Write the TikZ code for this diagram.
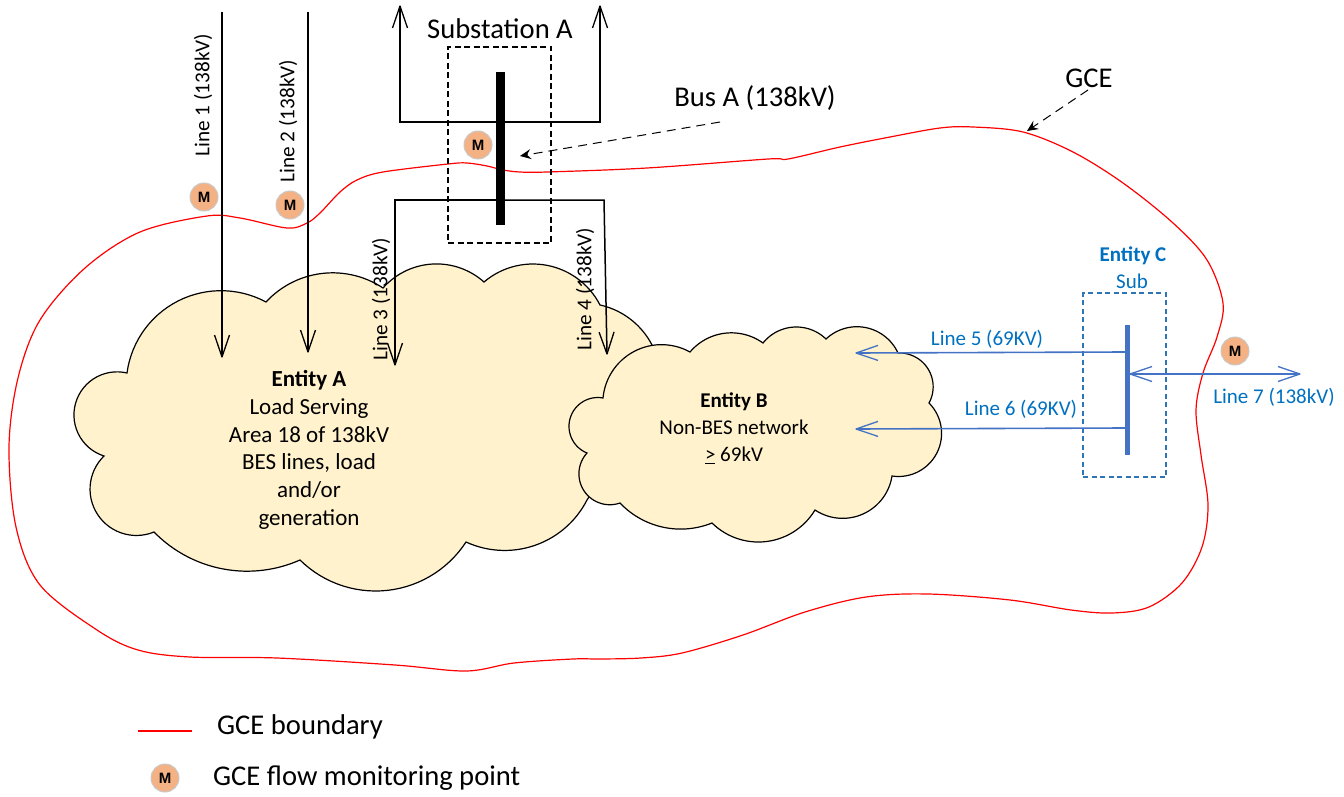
\documentclass[tikz,border=0pt]{standalone}
\usepackage{fontspec}
\setmainfont{Carlito}
\newfontfamily\meterfont{Liberation Sans}
\usetikzlibrary{arrows.meta}
\definecolor{cloudfill}{HTML}{FFF2CC}
\definecolor{gcered}{HTML}{FF0000}
\definecolor{meterfill}{HTML}{F4B183}
\definecolor{meterline}{HTML}{C9C9C9}
\definecolor{lineblue}{HTML}{4472C4}
\definecolor{textblue}{HTML}{0070C0}
\definecolor{boxblue}{HTML}{2E75B6}
\pgfdeclarearrow{
  name=OpenVee,
  setup code={%
    \pgfarrowssettipend{0pt}%
    \pgfarrowssetlineend{-1pt}%
    \pgfarrowssetvisualtipend{0pt}%
    \pgfarrowssetbackend{-22pt}%
    \pgfarrowssetvisualbackend{-22pt}%
    \pgfarrowshullpoint{0pt}{0pt}%
    \pgfarrowsupperhullpoint{-22pt}{7.5pt}%
  },
  drawing code={%
    \pgfsetdash{}{0pt}%
    \pgfsetlinewidth{1.3pt}%
    \pgfsetroundjoin
    \pgfsetbuttcap
    \pgfpathmoveto{\pgfqpoint{-22pt}{7.5pt}}%
    \pgfpathlineto{\pgfqpoint{0pt}{0pt}}%
    \pgfpathlineto{\pgfqpoint{-22pt}{-7.5pt}}%
    \pgfusepathqstroke
  }
}
\tikzset{
  x=1pt,y=-1pt,
  cloudshape/.style={fill=cloudfill,draw=black,line width=1.2pt,line join=miter},
  gceline/.style={draw=gcered,line width=1.2pt},
  feeder/.style={draw=black,line width=1.5pt,-OpenVee},
  bluefeeder/.style={draw=lineblue,line width=1.6pt,-OpenVee},
  pointer/.style={draw=black,line width=1pt,dash pattern=on 9pt off 6pt,-{Stealth[length=11pt,width=10pt,inset=4pt]}},
  meter/.style={circle,fill=meterfill,draw=meterline,line width=1pt,minimum size=28pt,inner sep=0pt,font=\meterfont\fontsize{15}{15}\selectfont\bfseries},
  vlabel/.style={rotate=90,inner sep=0pt,font=\fontsize{21.2}{23}\selectfont},
  biglabel/.style={inner sep=0pt,font=\fontsize{28.6}{30}\selectfont},
  midlabel/.style={inner sep=0pt,align=center,font=\fontsize{23}{27.7}\selectfont},
  bluelabel/.style={inner sep=0pt,text=textblue,font=\fontsize{21}{24}\selectfont},
}
% circular lobe through three points, appended to \cpath
\newcommand\lobe[6]{%
  \edef\bx{\fpeval{#3-(#1)}}\edef\by{\fpeval{#4-(#2)}}%
  \edef\qx{\fpeval{#5-(#1)}}\edef\qy{\fpeval{#6-(#2)}}%
  \edef\dd{\fpeval{2*(\bx*\qy-\by*\qx)}}%
  \edef\ux{\fpeval{(\qy*(\bx*\bx+\by*\by)-\by*(\qx*\qx+\qy*\qy))/\dd}}%
  \edef\uy{\fpeval{(\bx*(\qx*\qx+\qy*\qy)-\qx*(\bx*\bx+\by*\by))/\dd}}%
  \edef\rr{\fpeval{sqrt(\ux*\ux+\uy*\uy)}}%
  \edef\aa{\fpeval{atand(-\uy,-\ux)}}%
  \edef\ab{\fpeval{atand(\by-\uy,\bx-\ux)}}%
  \edef\ac{\fpeval{atand(\qy-\uy,\qx-\ux)}}%
  \edef\da{\fpeval{\ab-\aa-360*floor((\ab-\aa)/360)}}%
  \edef\db{\fpeval{\ac-\aa-360*floor((\ac-\aa)/360)}}%
  \edef\sw{\fpeval{\da<\db ? \db : \db-360}}%
  \foreach \k in {0,...,30}{%
    \xdef\cpath{\cpath -- (\fpeval{round(#1+\ux+\rr*cosd(\aa+\sw*\k/30),2)},\fpeval{round(#2+\uy+\rr*sind(\aa+\sw*\k/30),2)})}%
  }%
}
\begin{document}
\begin{tikzpicture}
\useasboundingbox (0,0) rectangle (1344,797);
% Entity A cloud
\gdef\cpath{(127,373)}
\lobe{127}{373}{187}{297}{266}{302}
\lobe{266}{302}{327}{273}{383}{288}
\lobe{383}{288}{433}{264}{484}{282}
\lobe{484}{282}{533}{264}{600}{305}
\lobe{600}{305}{635}{323}{653}{347}
\xdef\cpath{\cpath -- (640,420)}
\lobe{587}{500}{541}{543}{466}{542}
\lobe{466}{542}{377}{591}{300}{560}
\lobe{300}{560}{240}{571}{154}{532}
\lobe{154}{532}{95}{510}{104}{456}
\lobe{104}{456}{74}{417}{127}{373}
\path[cloudshape] \cpath -- cycle;
% GCE boundary
\draw[gceline] plot[smooth cycle,tension=0.55] coordinates {
 (18,378)(40,320)(85,268)(140,232)(207,216)(240,218)(287,228)(307,223)(320,213)(340,192)(357,180)(383,172)(448,164)(467,163)(487,166)(503,170)(520,172)(547,172)(647,168)(768,159)(788,159)(840,147)(890,137)(940,128)(973,127)(1023,132)(1073,152)(1123,183)(1173,223)(1207,260)(1223,303)(1217,337)(1203,373)(1196,410)(1201,455)(1208,505)(1202,547)(1182,583)(1149,607)(1112,613)(1071,610)(1010,600)(928,594)(866,597)(805,612)(743,635)(682,653)(641,658)(600,659)(573,659)(514,663)(466,671)(395,665)(277,658)(190,657)(138,650)(97,630)(40,585)(16,527)(9,447)};
% Entity B cloud
\gdef\cpath{(603,398)}
\lobe{603}{398}{637}{350}{690}{352}
\lobe{690}{352}{727}{333}{763}{343}
\lobe{763}{343}{797}{327}{826}{339}
\lobe{826}{339}{862}{327}{898}{353}
\lobe{898}{353}{932}{378}{929}{403}
\lobe{929}{403}{940}{445}{892}{476}
\lobe{892}{476}{867}{512}{815}{510}
\lobe{815}{510}{760}{542}{712}{523}
\lobe{712}{523}{677}{529}{620}{503}
\lobe{620}{503}{581}{485}{587}{453}
\lobe{587}{453}{569}{427}{603}{398}
\path[cloudshape] \cpath -- cycle;
% Named ends
\coordinate (l1a) at (222,12);  \coordinate (l1b) at (222,357);
\coordinate (l2a) at (308,12);  \coordinate (l2b) at (308,352);
\coordinate (ula) at (500,122); \coordinate (ulb) at (400,122); \coordinate (ulc) at (400,6);
\coordinate (ura) at (500,122); \coordinate (urb) at (600,122); \coordinate (urc) at (600,6);
\coordinate (lla) at (500,200); \coordinate (llb) at (395,200); \coordinate (llc) at (395,365);
\coordinate (lra) at (500,200); \coordinate (lrb) at (604,200); \coordinate (lrc) at (607,354);
% Substation A
\node[draw=black,line width=1.6pt,dash pattern=on 6pt off 3.5pt,minimum width=103pt,minimum height=196pt,inner sep=0pt] (subA) at (499.5,145) {};
\node[fill=black,minimum width=9pt,minimum height=153pt,inner sep=0pt] (busA) at (500.5,148.5) {};
\draw[feeder] (l1a) -- (l1b);
\draw[feeder] (l2a) -- (l2b);
\draw[feeder] (ula) -- (ulb) -- (ulc);
\draw[feeder] (ura) -- (urb) -- (urc);
\draw[feeder] (lla) -- (llb) -- (llc);
\draw[feeder] (lra) -- (lrb) -- (lrc);
% Substation C
\node[draw=boxblue,line width=1.6pt,dash pattern=on 5pt off 3.5pt,minimum width=83pt,minimum height=184pt,inner sep=0pt] (subC) at (1124.5,385) {};
\node[fill=lineblue,minimum width=5pt,minimum height=130pt,inner sep=0pt] (busC) at (1127.5,390) {};
\coordinate (l5a) at (1125,352); \coordinate (l5b) at (856,353);
\coordinate (l6a) at (1125,428); \coordinate (l6b) at (856,429);
\coordinate (l7c) at (1130,374); \coordinate (l7d) at (1300,374);
\draw[bluefeeder] (l5a) -- (l5b);
\draw[bluefeeder] (l6a) -- (l6b);
\draw[bluefeeder,OpenVee-OpenVee] (l7c) -- (l7d);
% Meters
\node[meter] (m1) at (204,197) {M};
\node[meter] (m2) at (290,205) {M};
\node[meter] (m3) at (478,145) {M};
\node[meter] (m4) at (1235,351) {M};
% Labels
\node[vlabel] (t1) at (203,95) {Line 1 (138kV)};
\node[vlabel] (t2) at (288,121) {Line 2 (138kV)};
\node[vlabel] (t3) at (381,299) {Line 3 (138kV)};
\node[vlabel] (t4) at (585,289) {Line 4 (138kV)};
\node[biglabel] (tsub) at (500,29) {Substation A};
\node[biglabel] (tbus) at (755,98) {Bus A (138kV)};
\node[biglabel] (tgce) at (1089,78) {GCE};
\coordinate (busp) at (720,122); \coordinate (buse) at (520,156);
\coordinate (gcep) at (1088,90); \coordinate (gcee) at (1027,131);
\draw[pointer] (busp) -- (buse);
\draw[pointer] (gcep) -- (gcee);
\node[midlabel] (ta) at (309,450) {\textbf{Entity A}\\Load Serving\\Area 18 of 138kV\\BES lines, load\\and/or\\generation};
\node[midlabel,font=\fontsize{21}{27}\selectfont] (tb) at (734,428) {\textbf{Entity B}\\Non-BES network\\\underline{>} 69kV};
\node[bluelabel,font=\fontsize{21}{24}\selectfont\bfseries] (tc) at (1133,256) {Entity C};
\node[bluelabel] (tcs) at (1132,281) {Sub};
\node[bluelabel] (t5) at (987,339) {Line 5 (69KV)};
\node[bluelabel] (t6) at (1021,409) {Line 6 (69KV)};
\node[bluelabel] (t7) at (1274,397) {Line 7 (138kV)};
% Legend
\coordinate (lga) at (138,731); \coordinate (lgb) at (192,731);
\draw[gceline] (lga) -- (lgb);
\node[biglabel,anchor=west] (tlg1) at (217,727) {GCE boundary};
\node[meter] (m5) at (165,778) {M};
\node[biglabel,anchor=west] (tlg2) at (213,778) {GCE flow monitoring point};
\end{tikzpicture}
\end{document}
